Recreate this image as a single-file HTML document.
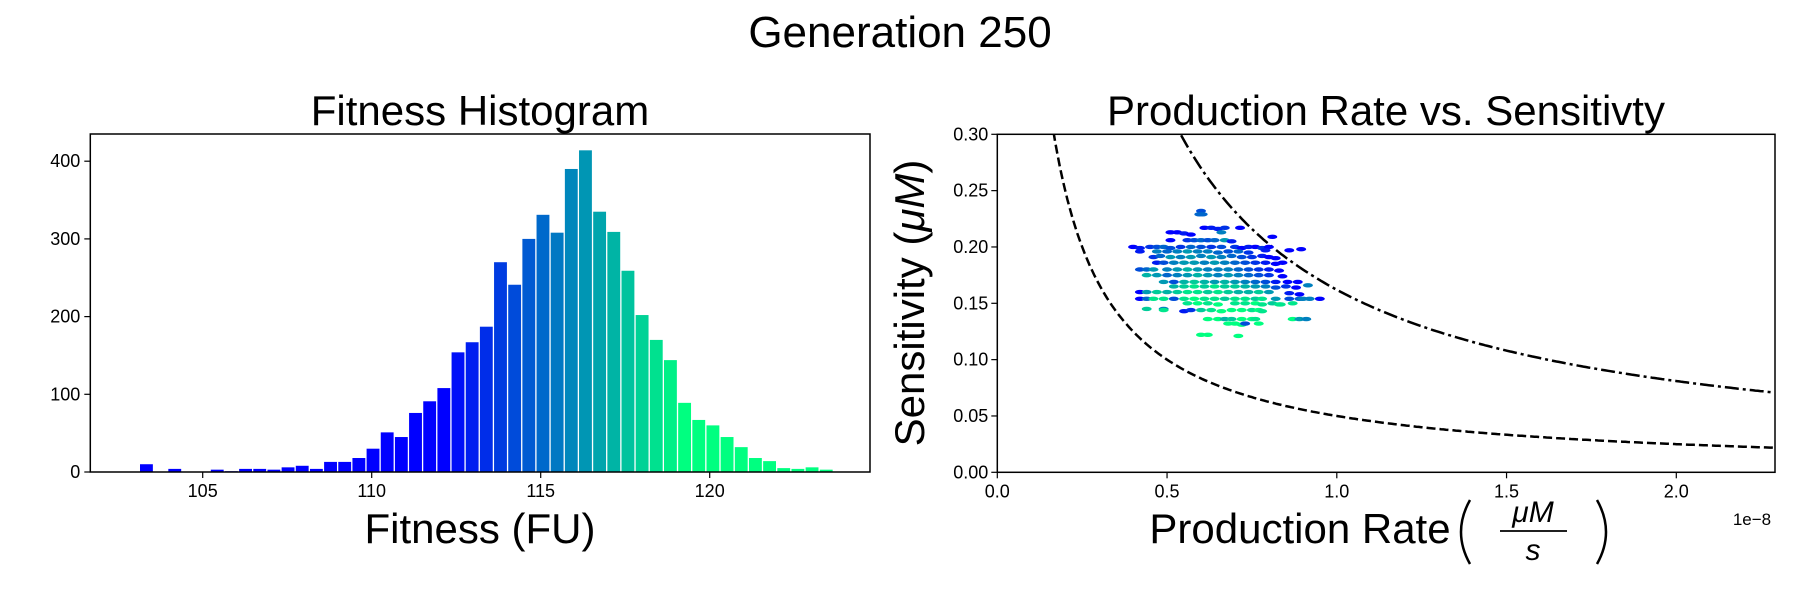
<!DOCTYPE html>
<html><head><meta charset="utf-8"><style>
html,body{margin:0;padding:0;background:#fff;}
svg{display:block;font-family:"Liberation Sans",sans-serif;}
</style></head><body>
<svg id="fig" width="1800" height="600" viewBox="0 0 1800 600">
<rect width="1800" height="600" fill="#fff"/>
<text x="900" y="47" font-size="44" text-anchor="middle">Generation 250</text>
<text x="480" y="125" font-size="42" text-anchor="middle">Fitness Histogram</text>
<text x="1386" y="125" font-size="42" text-anchor="middle">Production Rate vs. Sensitivty</text>
<g id="hist"></g>
<g id="scat"></g>
<text x="480" y="543" font-size="42" text-anchor="middle">Fitness (FU)</text>
<g>
<text x="1300" y="543" font-size="42" text-anchor="middle">Production Rate</text>
<path d="M1470,500 Q1452,532 1470,564" fill="none" stroke="#000" stroke-width="2.5"/>
<text x="1533" y="522" font-size="30" font-style="italic" text-anchor="middle">μM</text>
<line x1="1500" y1="531" x2="1567" y2="531" stroke="#000" stroke-width="1.8"/>
<text x="1533" y="560" font-size="30" font-style="italic" text-anchor="middle">s</text>
<path d="M1597,500 Q1615,532 1597,564" fill="none" stroke="#000" stroke-width="2.5"/>
</g>
<text x="1752" y="525" font-size="17" text-anchor="middle">1e−8</text>
<text transform="translate(924,303) rotate(-90)" font-size="42" text-anchor="middle">Sensitivity (<tspan font-style="italic">μM</tspan>)</text>
</svg>
<script>
// Histogram data
const binStart = 103.145;
const binWidth = 0.419;
const binCounts = [10,0,4,0,0,3,1,4,4,3,6,8,4,13,13,18,30,51,45,76,91,108,154,167,187,270,241,300,331,308,390,414,335,309,259,202,170,144,89,67,60,45,32,18,14,5,4,6,3];
const histXTicks = [105,110,115,120];
const histYTicks = [0,100,200,300,400];

// Scatter data
const ptsX = [0.60,0.595,0.605,0.61,0.63,0.65,0.67,0.715,0.51,0.53,0.55,0.57,0.66,0.51,0.56,0.58,0.60,0.62,0.64,0.67,0.69,0.81,
0.40,0.42,0.45,0.47,0.49,0.51,0.54,0.57,0.60,0.63,0.66,0.70,0.72,0.74,0.76,0.78,0.80,0.79,
0.42,0.47,0.50,0.53,0.56,0.59,0.62,0.65,0.68,0.71,0.74,0.86,0.895,
0.46,0.48,0.51,0.54,0.57,0.60,0.63,0.66,0.69,0.72,0.75,0.78,0.80,0.82,
0.47,0.49,0.52,0.55,0.58,0.61,0.64,0.67,0.70,0.73,0.76,0.79,0.82,0.84,
0.42,0.44,0.46,0.50,0.53,0.56,0.59,0.62,0.65,0.68,0.71,0.74,0.77,0.80,0.83,
0.44,0.47,0.50,0.53,0.56,0.59,0.62,0.65,0.68,0.71,0.74,0.77,0.80,0.84,
0.49,0.52,0.55,0.58,0.61,0.64,0.67,0.70,0.73,0.76,0.79,0.82,0.855,0.885,
0.52,0.55,0.58,0.61,0.64,0.67,0.70,0.73,0.76,0.79,0.82,0.85,0.88,0.915,
0.42,0.44,0.47,0.50,0.53,0.56,0.59,0.62,0.65,0.68,0.71,0.74,0.77,0.80,0.86,0.89,
0.42,0.44,0.46,0.49,0.52,0.55,0.58,0.61,0.64,0.67,0.70,0.73,0.76,0.78,0.82,0.86,0.89,0.90,0.92,0.95,
0.56,0.59,0.62,0.65,0.70,0.73,0.76,0.78,0.81,0.83,0.835,0.87,
0.44,0.49,0.49,0.55,0.57,0.60,0.63,0.66,0.69,0.72,0.75,0.77,0.78,
0.62,0.65,0.67,0.69,0.72,0.75,0.76,0.87,0.89,0.91,
0.68,0.70,0.72,0.73,0.77,
0.60,0.62,0.71];
const ptsY = [0.232,0.229,0.229,0.217,0.217,0.216,0.217,0.217,0.213,0.213,0.212,0.211,0.213,0.206,0.206,0.206,0.206,0.206,0.206,0.206,0.205,0.209,
0.200,0.199,0.200,0.200,0.200,0.199,0.200,0.200,0.200,0.200,0.200,0.200,0.199,0.200,0.200,0.199,0.200,0.197,
0.196,0.196,0.196,0.196,0.196,0.196,0.196,0.195,0.196,0.196,0.195,0.197,0.198,
0.191,0.192,0.191,0.191,0.191,0.192,0.191,0.191,0.192,0.191,0.191,0.192,0.191,0.190,
0.186,0.186,0.186,0.186,0.186,0.186,0.186,0.186,0.186,0.186,0.186,0.186,0.185,0.186,
0.180,0.180,0.180,0.180,0.180,0.180,0.180,0.180,0.180,0.180,0.180,0.180,0.180,0.180,0.179,
0.175,0.175,0.175,0.175,0.175,0.175,0.175,0.175,0.175,0.175,0.175,0.175,0.175,0.174,
0.169,0.169,0.169,0.169,0.169,0.169,0.169,0.169,0.169,0.169,0.169,0.169,0.169,0.169,
0.165,0.165,0.165,0.165,0.165,0.165,0.165,0.165,0.165,0.165,0.164,0.165,0.164,0.166,
0.160,0.160,0.160,0.160,0.160,0.160,0.160,0.160,0.160,0.160,0.160,0.160,0.160,0.160,0.159,0.158,
0.154,0.154,0.154,0.154,0.154,0.154,0.154,0.154,0.154,0.154,0.154,0.154,0.154,0.154,0.154,0.154,0.154,0.154,0.154,0.154,
0.150,0.150,0.150,0.149,0.150,0.150,0.150,0.149,0.150,0.149,0.149,0.150,
0.145,0.145,0.144,0.143,0.144,0.144,0.144,0.143,0.144,0.144,0.144,0.144,0.143,
0.136,0.136,0.136,0.136,0.136,0.136,0.136,0.136,0.136,0.136,
0.132,0.132,0.131,0.132,0.132,
0.122,0.122,0.121];
const ptsT = [0.3,0.4,0.4,0.0,0.1,0.1,0.2,0.0,0.0,0.0,0.1,0.0,0.5,0.0,0.2,0.3,0.4,0.3,0.4,0.6,0.1,0.0,
0.0,0.1,0.2,0.3,0.4,0.3,0.2,0.4,0.3,0.2,0.3,0.2,0.0,0.1,0.0,0.2,0.0,0.1,
0.1,0.5,0.4,0.5,0.6,0.5,0.5,0.4,0.3,0.4,0.2,0.0,0.0,
0.2,0.4,0.6,0.5,0.6,0.5,0.6,0.5,0.4,0.3,0.2,0.1,0.0,0.0,
0.1,0.3,0.5,0.6,0.6,0.5,0.6,0.5,0.4,0.3,0.2,0.1,0.0,0.0,
0.3,0.4,0.6,0.5,0.6,0.7,0.6,0.5,0.5,0.5,0.4,0.3,0.2,0.1,0.0,
0.7,0.6,0.4,0.5,0.6,0.7,0.6,0.5,0.6,0.5,0.4,0.3,0.2,0.0,
0.6,0.3,0.7,0.8,0.7,0.6,0.7,0.6,0.5,0.4,0.3,0.1,0.0,0.0,
0.7,0.8,0.9,0.8,0.9,0.8,0.8,0.7,0.6,0.5,0.3,0.2,0.0,0.5,
0.0,0.6,0.8,0.7,0.8,0.9,0.9,0.8,0.9,0.8,0.7,0.7,0.8,0.6,0.1,0.0,
0.0,0.4,0.9,0.9,0.3,0.9,1.0,0.9,0.9,0.8,0.9,0.9,0.8,0.9,0.6,0.3,0.4,0.5,0.5,0.0,
0.9,1.0,0.9,1.0,0.9,0.9,1.0,0.9,0.8,0.9,0.9,0.9,
0.8,0.5,0.9,0.1,0.2,0.8,0.9,1.0,1.0,1.0,0.9,1.0,0.9,
1.0,1.0,0.7,0.8,1.0,1.0,0.9,1.0,0.6,0.5,
1.0,1.0,1.0,0.3,1.0,
1.0,1.0,1.0];
const scatXTicks = [0.0,0.5,1.0,1.5,2.0];
const scatYTicks = [0.00,0.05,0.10,0.15,0.20,0.25,0.30];
const lowerK = 0.05;
const upperK = 0.162;

const NS = "http://www.w3.org/2000/svg";
function mk(tag, attrs, parent){const e=document.createElementNS(NS,tag);for(const k in attrs)e.setAttribute(k,attrs[k]);parent.appendChild(e);return e;}
function winter(t){t=Math.max(0,Math.min(1,t));return `rgb(0,${Math.round(255*t)},${Math.round(255*(1-0.5*t))})`;}

// ---- Histogram ----
const H = document.getElementById('hist');
const hL=90.3,hR=870,hT=134,hB=472;
const hx = v => 202.7 + (v-105)*33.8;
const hy = c => hB - c*0.777;
binCounts.forEach((c,i)=>{
  if(c<=0) return;
  const x0=hx(binStart+i*binWidth), w=binWidth*33.8-1.3;
  const r=mk('rect',{x:x0,y:hy(c),width:w,height:hB-hy(c),fill:winter((i-21)/17)},H);
  
  
});
const hf=mk('rect',{x:hL,y:hT,width:hR-hL,height:hB-hT,fill:'none',stroke:'#000','stroke-width':1.5},H);


histXTicks.forEach(v=>{
  mk('line',{x1:hx(v),x2:hx(v),y1:hB,y2:hB+6,stroke:'#000','stroke-width':1.2},H);
  const t=mk('text',{x:hx(v),y:hB+25,'font-size':18,'text-anchor':'middle'},H);t.textContent=v;
  
  
});
histYTicks.forEach(v=>{
  mk('line',{x1:hL-6,x2:hL,y1:hy(v),y2:hy(v),stroke:'#000','stroke-width':1.2},H);
  const t=mk('text',{x:hL-10,y:hy(v)+6,'font-size':18,'text-anchor':'end'},H);t.textContent=v;
  
  
});

// ---- Scatter ----
const S = document.getElementById('scat');
const sL=997.3,sR=1775,sT=134.3,sB=472.3;
const sx = v => sL + v*339.5;
const sy = v => sB - v*(sB-sT)/0.30;
const cp=mk('clipPath',{id:'sclip'},S);mk('rect',{x:sL,y:sT,width:sR-sL,height:sB-sT},cp);
const xmax=(sR-sL)/339.5;
function curve(k){let d='';for(let i=0;i<=300;i++){const x=0.12+(xmax-0.12)*i/300;d+=(i?'L':'M')+sx(x).toFixed(1)+','+sy(k/x).toFixed(1);}return d;}
const c1=mk('path',{d:curve(lowerK),fill:'none',stroke:'#000','stroke-width':2.5,'stroke-dasharray':'9,4','clip-path':'url(#sclip)'},S);


const c2=mk('path',{d:curve(upperK),fill:'none',stroke:'#000','stroke-width':2.5,'stroke-dasharray':'14,4,3,4','clip-path':'url(#sclip)'},S);


ptsX.forEach((x,i)=>{
  const p=mk('ellipse',{cx:sx(x),cy:sy(ptsY[i]),rx:5,ry:2.2,fill:winter(ptsT[i])},S);
  
  
});
const sf=mk('rect',{x:sL,y:sT,width:sR-sL,height:sB-sT,fill:'none',stroke:'#000','stroke-width':1.5},S);


scatXTicks.forEach(v=>{
  mk('line',{x1:sx(v),x2:sx(v),y1:sB,y2:sB+6,stroke:'#000','stroke-width':1.2},S);
  const t=mk('text',{x:sx(v),y:sB+25,'font-size':18,'text-anchor':'middle'},S);t.textContent=v.toFixed(1);
  
  
});
scatYTicks.forEach(v=>{
  mk('line',{x1:sL-6,x2:sL,y1:sy(v),y2:sy(v),stroke:'#000','stroke-width':1.2},S);
  const t=mk('text',{x:sL-9,y:sy(v)+6,'font-size':18,'text-anchor':'end'},S);t.textContent=v.toFixed(2);
  
  
});
</script>
</body></html>
